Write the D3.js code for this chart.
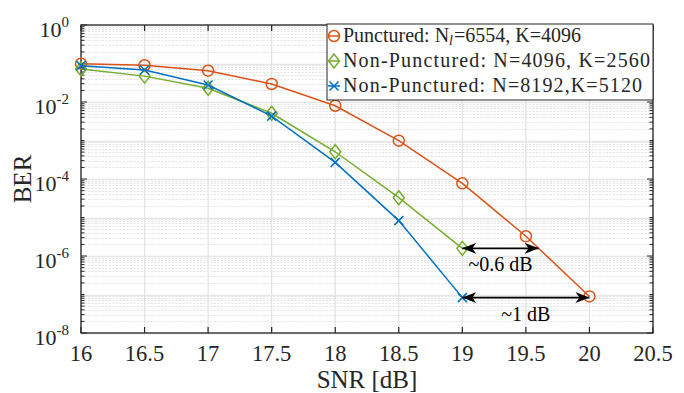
<!DOCTYPE html>
<html>
<head>
<meta charset="utf-8">
<script src="https://cdn.jsdelivr.net/npm/d3@7"></script>
<style>
    body { margin: 0; background: #fff; }
    text { font-family: "Liberation Serif", "DejaVu Serif", serif; fill: #262626; }
</style>
</head>
<body>
<div id="chart"></div>
<script>

// SNR values (dB)
var snr = [16, 16.5, 17, 17.5, 18, 18.5, 19, 19.5, 20];

// BER curves
var berPunct = [9.9e-2, 9.0e-2, 6.5e-2, 2.94e-2, 8.0e-3, 9.9e-4, 7.7e-5, 3.25e-6, 8.9e-8];
var berNP4096 = [7.2e-2, 4.7e-2, 2.27e-2, 5.1e-3, 5.1e-4, 3.27e-5, 1.58e-6];
var berNP8192 = [8.8e-2, 6.8e-2, 2.77e-2, 4.3e-3, 2.7e-4, 8.3e-6, 8.3e-8];

var xTicks = [16, 16.5, 17, 17.5, 18, 18.5, 19, 19.5, 20, 20.5];
var yTickExp = [0, -2, -4, -6, -8];

// gap annotations: from x1 to x2 at a BER level
var gaps = [
    { x1: 19, x2: 19.6, y: 1.58e-6, label: "~0.6 dB" },
    { x1: 19, x2: 20, y: 8.3e-8, label: "~1 dB" }
];

var colors = { punct: "#D95319", np4096: "#77AC30", np8192: "#0072BD" };

var width = 684, height = 393;
var margin = { top: 25, right: 31, bottom: 60, left: 81 };
var w = width - margin.left - margin.right;
var h = height - margin.top - margin.bottom;

var svg = d3.select("#chart").append("svg")
    .attr("width", width)
    .attr("height", height);

var g = svg.append("g")
    .attr("transform", "translate(" + margin.left + "," + margin.top + ")");

var x = d3.scaleLinear().domain([16, 20.5]).range([0, w]);
var y = d3.scaleLog().domain([1e-8, 1]).range([h, 0]);

// ---- grid ----
var minorVals = [];
for (var e = -8; e < 0; e++) {
    for (var m = 2; m <= 9; m++) minorVals.push(m * Math.pow(10, e));
}
var decades = d3.range(-8, 1).map(function(k) { return Math.pow(10, k); });

g.selectAll(".ygrid-minor").data(minorVals).enter().append("line")
    .attr("x1", 0).attr("x2", w)
    .attr("y1", function(d) { return Math.round(y(d)) + 0.5; })
    .attr("y2", function(d) { return Math.round(y(d)) + 0.5; })
    .attr("stroke", "#e3e3e3").attr("stroke-width", 1)
    .attr("stroke-dasharray", "2,1.5");

g.selectAll(".ygrid").data(decades).enter().append("line")
    .attr("x1", 0).attr("x2", w)
    .attr("y1", function(d) { return Math.round(y(d)) + 0.5; })
    .attr("y2", function(d) { return Math.round(y(d)) + 0.5; })
    .attr("stroke", "#e6e6e6").attr("stroke-width", 1.5);

g.selectAll(".xgrid").data(xTicks).enter().append("line")
    .attr("x1", function(d) { return x(d); }).attr("x2", function(d) { return x(d); })
    .attr("y1", 0).attr("y2", h)
    .attr("stroke", "#e3e3e3").attr("stroke-width", 1.3);

// ---- box + ticks ----
var axisCol = "#262626";
g.append("rect")
    .attr("x", 0).attr("y", 0).attr("width", w).attr("height", h)
    .attr("fill", "none").attr("stroke", axisCol).attr("stroke-width", 1.3);

xTicks.forEach(function(t) {
    g.append("line").attr("x1", x(t)).attr("x2", x(t)).attr("y1", h).attr("y2", h - 6)
        .attr("stroke", axisCol).attr("stroke-width", 1.2);
    g.append("line").attr("x1", x(t)).attr("x2", x(t)).attr("y1", 0).attr("y2", 6)
        .attr("stroke", axisCol).attr("stroke-width", 1.2);
});

var allYTicks = minorVals.concat(decades);
allYTicks.forEach(function(t) {
    var lg10 = Math.log10(t);
    var major = Math.abs(lg10 - Math.round(lg10)) < 1e-9 && yTickExp.indexOf(Math.round(lg10)) >= 0;
    var len = major ? 6 : 3.5;
    g.append("line").attr("x1", 0).attr("x2", len).attr("y1", y(t)).attr("y2", y(t))
        .attr("stroke", axisCol).attr("stroke-width", 1);
    g.append("line").attr("x1", w).attr("x2", w - len).attr("y1", y(t)).attr("y2", y(t))
        .attr("stroke", axisCol).attr("stroke-width", 1);
});

// tick labels
g.selectAll(".xlab").data(xTicks).enter().append("text")
    .attr("x", function(d) { return x(d); })
    .attr("y", h + 28)
    .attr("text-anchor", "middle")
    .style("font-size", "22.5px")
    .text(function(d) { return d; });

var yl = g.selectAll(".ylab").data(yTickExp).enter().append("text")
    .attr("x", -12)
    .attr("y", function(d) { return y(Math.pow(10, d)) + 12; })
    .attr("text-anchor", "end")
    .style("font-size", "22px");
yl.append("tspan").text("10");
yl.append("tspan").attr("dy", -10).style("font-size", "15px").text(function(d) { return d; });

// axis titles
g.append("text")
    .attr("x", w / 2).attr("y", h + 55)
    .attr("text-anchor", "middle")
    .style("font-size", "25px")
    .text("SNR [dB]");

g.append("text")
    .attr("transform", "translate(" + (-50) + "," + (h / 2) + ") rotate(-90)")
    .attr("text-anchor", "middle")
    .style("font-size", "25px")
    .text("BER");

// ---- curves ----
var series = [
    { key: "punct", vals: berPunct, marker: "circle" },
    { key: "np4096", vals: berNP4096, marker: "diamond" },
    { key: "np8192", vals: berNP8192, marker: "cross" }
];

var line = d3.line()
    .x(function(d) { return x(d[0]); })
    .y(function(d) { return y(d[1]); });

function drawMarker(sel, type, col) {
    if (type === "circle") {
        sel.append("circle").attr("r", 5.5)
            .attr("fill", "none").attr("stroke", col).attr("stroke-width", 1.5);
    } else if (type === "diamond") {
        sel.append("path").attr("d", "M0,-7L5.5,0L0,7L-5.5,0Z")
            .attr("fill", "none").attr("stroke", col).attr("stroke-width", 1.5);
    } else {
        sel.append("path").attr("d", "M-4.5,-4.5L4.5,4.5M-4.5,4.5L4.5,-4.5")
            .attr("fill", "none").attr("stroke", col).attr("stroke-width", 1.5);
    }
}

series.forEach(function(s) {
    var pts = s.vals.map(function(v, i) { return [snr[i], v]; });
    g.append("path")
        .datum(pts)
        .attr("d", line)
        .attr("fill", "none")
        .attr("stroke", colors[s.key])
        .attr("stroke-width", 1.5);
    pts.forEach(function(p) {
        var mg = g.append("g").attr("transform", "translate(" + x(p[0]) + "," + y(p[1]) + ")");
        drawMarker(mg, s.marker, colors[s.key]);
    });
});

// ---- gap arrows ----
svg.append("defs").append("marker")
    .attr("id", "head")
    .attr("viewBox", "0 -6 14 12")
    .attr("refX", 14).attr("refY", 0)
    .attr("markerWidth", 14).attr("markerHeight", 12)
    .attr("markerUnits", "userSpaceOnUse")
    .attr("orient", "auto-start-reverse")
    .append("path")
    .attr("d", "M0,-5.5L14,0L0,5.5L4,0Z")
    .attr("fill", "#000");

gaps.forEach(function(a) {
    g.append("line")
        .attr("x1", x(a.x1)).attr("x2", x(a.x2))
        .attr("y1", y(a.y)).attr("y2", y(a.y))
        .attr("stroke", "#000").attr("stroke-width", 1.8)
        .attr("marker-start", "url(#head)")
        .attr("marker-end", "url(#head)");
    g.append("text")
        .attr("x", (x(a.x1) + x(a.x2)) / 2)
        .attr("y", y(a.y) + 23)
        .attr("text-anchor", "middle")
        .style("font-size", "20px")
        .style("fill", "#000")
        .text(a.label);
});

// ---- legend ----
var lg = svg.append("g").attr("transform", "translate(327,24)");
lg.append("rect")
    .attr("width", 326).attr("height", 76)
    .attr("fill", "#fff").attr("stroke", axisCol).attr("stroke-width", 1);

var legRows = [
    { key: "punct", marker: "circle" },
    { key: "np4096", marker: "diamond" },
    { key: "np8192", marker: "cross" }
];
legRows.forEach(function(r, i) {
    var row = lg.append("g").attr("transform", "translate(0," + (12 + i * 25) + ")");
    row.append("line").attr("x1", 1).attr("x2", 13).attr("y1", 0).attr("y2", 0)
        .attr("stroke", colors[r.key]).attr("stroke-width", 1.5);
    var mg = row.append("g").attr("transform", "translate(7,0)");
    drawMarker(mg, r.marker, colors[r.key]);
});

var legFont = "20px";
var t1 = lg.append("text").attr("x", 16).attr("y", 18).style("font-size", legFont);
t1.append("tspan").text("Punctured:  N");
t1.append("tspan").attr("dy", 3).style("font-size", "14px").style("font-style", "italic").text("l");
t1.append("tspan").attr("dy", -3).attr("dx", 1).text("=6554, K=4096");

lg.append("text").attr("x", 16).attr("y", 43).style("font-size", legFont)
    .attr("textLength", 307).attr("lengthAdjust", "spacing")
    .text("Non-Punctured:  N=4096, K=2560");
lg.append("text").attr("x", 16).attr("y", 68).style("font-size", legFont)
    .attr("textLength", 299).attr("lengthAdjust", "spacing")
    .text("Non-Punctured:  N=8192,K=5120");

</script>
</body>
</html>
